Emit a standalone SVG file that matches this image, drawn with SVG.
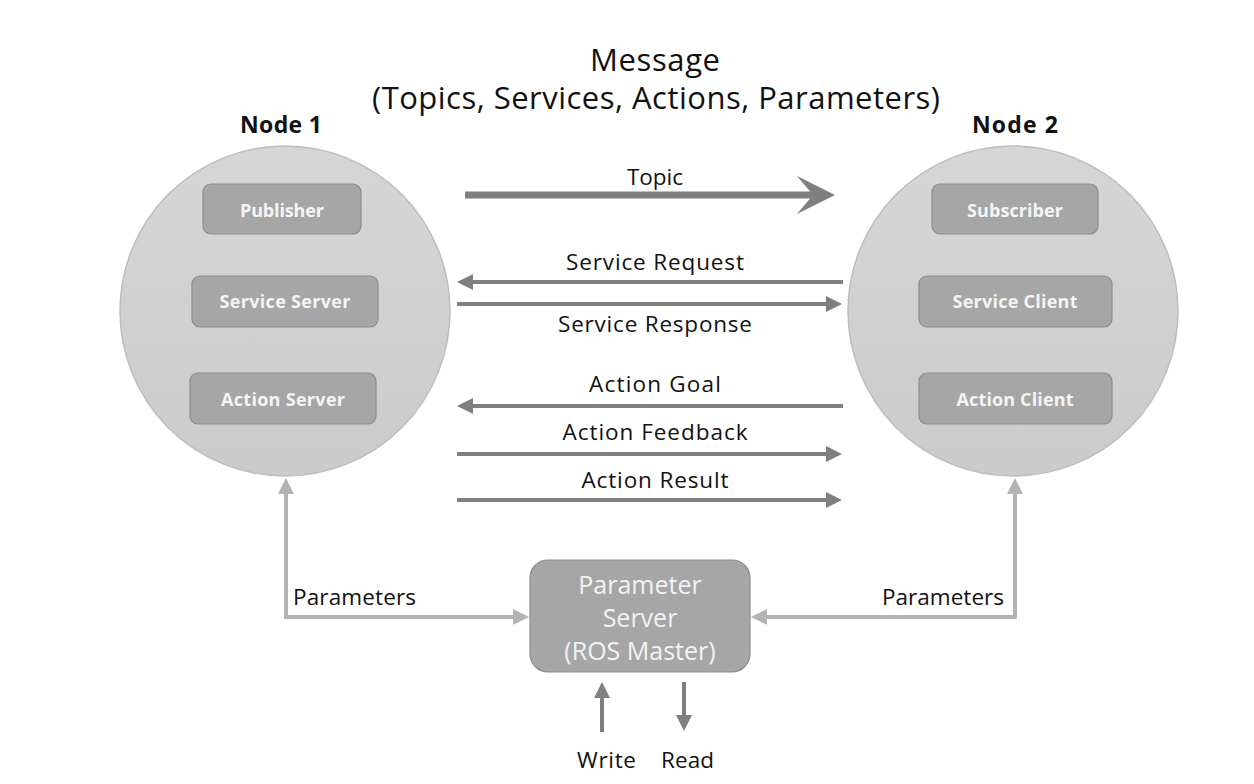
<svg xmlns="http://www.w3.org/2000/svg" width="1254" height="784" viewBox="0 0 1254 784">
<style>
  text { font-family: "Open Sans", "Noto Sans", "Liberation Sans", sans-serif; fill: #111; }
  .title { font-size: 31px; }
  .lbl { font-size: 22.5px; }
  .nodeName { font-size: 23px; font-weight: bold; }
  .boxTxt { font-size: 18px; font-weight: bold; fill: #f4f4f4; }
  .psTxt { font-size: 25px; fill: #f2f2f2; }
  .circle { fill: url(#cg); stroke: #bdbdbd; stroke-width: 1.5; }
  .box { fill: #a6a6a6; stroke: #8c8c8c; stroke-width: 1.2; }
  .dark { stroke: #7f7f7f; stroke-width: 4; fill: none; }
  .light { stroke: #b3b3b3; stroke-width: 4; fill: none; }
</style>
<defs>
  <linearGradient id="cg" x1="0" y1="0" x2="0" y2="1">
    <stop offset="0" stop-color="#d6d6d6"/>
    <stop offset="1" stop-color="#cbcbcb"/>
  </linearGradient>
  <marker id="ahd" markerUnits="userSpaceOnUse" viewBox="0 0 16 16" markerWidth="16" markerHeight="16" refX="2" refY="8" orient="auto-start-reverse">
    <path d="M0,0 L16,8 L0,16 z" fill="#7f7f7f"/>
  </marker>
  <marker id="ahl" markerUnits="userSpaceOnUse" viewBox="0 0 16 16" markerWidth="16" markerHeight="16" refX="2" refY="8" orient="auto-start-reverse">
    <path d="M0,0 L16,8 L0,16 z" fill="#b3b3b3"/>
  </marker>
</defs>
<rect width="1254" height="784" fill="#ffffff"/>

<g id="title">
  <text class="title" x="655" y="71" text-anchor="middle" textLength="130">Message</text>
  <text class="title" x="656" y="109" text-anchor="middle" textLength="568">(Topics, Services, Actions, Parameters)</text>
</g>

<g id="node1">
  <text class="nodeName" x="281" y="133" text-anchor="middle" textLength="82">Node 1</text>
  <circle class="circle" cx="285" cy="311" r="165"/>
  <g id="publisher">
    <rect class="box" x="203" y="184" width="158" height="50" rx="8"/>
    <text class="boxTxt" x="282" y="217" text-anchor="middle" textLength="84">Publisher</text>
  </g>
  <g id="serviceServer">
    <rect class="box" x="192" y="276" width="186" height="51" rx="8"/>
    <text class="boxTxt" x="285" y="308" text-anchor="middle" textLength="131">Service Server</text>
  </g>
  <g id="actionServer">
    <rect class="box" x="190" y="373" width="186" height="51" rx="8"/>
    <text class="boxTxt" x="283" y="406" text-anchor="middle" textLength="124">Action Server</text>
  </g>
</g>

<g id="node2">
  <text class="nodeName" x="1015" y="133" text-anchor="middle" textLength="86">Node 2</text>
  <circle class="circle" cx="1013" cy="311" r="165"/>
  <g id="subscriber">
    <rect class="box" x="932" y="184" width="166" height="50" rx="8"/>
    <text class="boxTxt" x="1015" y="217" text-anchor="middle" textLength="96">Subscriber</text>
  </g>
  <g id="serviceClient">
    <rect class="box" x="919" y="276" width="193" height="51" rx="8"/>
    <text class="boxTxt" x="1015" y="308" text-anchor="middle" textLength="125">Service Client</text>
  </g>
  <g id="actionClient">
    <rect class="box" x="919" y="373" width="193" height="51" rx="8"/>
    <text class="boxTxt" x="1015" y="406" text-anchor="middle" textLength="117">Action Client</text>
  </g>
</g>

<g id="parameterServer">
  <rect class="box" x="530" y="560" width="220" height="112" rx="18"/>
  <text class="psTxt" x="640" y="594" text-anchor="middle">Parameter</text>
  <text class="psTxt" x="640" y="627" text-anchor="middle">Server</text>
  <text class="psTxt" x="640" y="660" text-anchor="middle">(ROS Master)</text>
</g>

<g id="connectors">
  <line x1="465" y1="195" x2="815" y2="195" stroke="#7f7f7f" stroke-width="7"/>
  <polygon points="797,176 835,195 797,214 813,195" fill="#7f7f7f"/>
  <line class="dark" x1="843" y1="282" x2="471" y2="282" marker-end="url(#ahd)"/>
  <line class="dark" x1="457" y1="304" x2="828" y2="304" marker-end="url(#ahd)"/>
  <line class="dark" x1="843" y1="406" x2="471" y2="406" marker-end="url(#ahd)"/>
  <line class="dark" x1="457" y1="454" x2="828" y2="454" marker-end="url(#ahd)"/>
  <line class="dark" x1="457" y1="500" x2="828" y2="500" marker-end="url(#ahd)"/>
  <path class="light" d="M286,492 L286,617 L515,617" marker-start="url(#ahl)" marker-end="url(#ahl)"/>
  <path class="light" d="M1015,492 L1015,617 L765,617" marker-start="url(#ahl)" marker-end="url(#ahl)"/>
  <line class="dark" x1="602" y1="732" x2="602" y2="696" marker-end="url(#ahd)"/>
  <line class="dark" x1="684" y1="682" x2="684" y2="717" marker-end="url(#ahd)"/>
</g>

<g id="labels">
  <text class="lbl" x="655" y="185" text-anchor="middle" textLength="56">Topic</text>
  <text class="lbl" x="655" y="270" text-anchor="middle" textLength="178">Service Request</text>
  <text class="lbl" x="655" y="332" text-anchor="middle" textLength="194">Service Response</text>
  <text class="lbl" x="655" y="392" text-anchor="middle" textLength="132">Action Goal</text>
  <text class="lbl" x="655" y="440" text-anchor="middle" textLength="185">Action Feedback</text>
  <text class="lbl" x="655" y="488" text-anchor="middle" textLength="147">Action Result</text>
  <text class="lbl" x="293" y="605" textLength="123">Parameters</text>
  <text class="lbl" x="882" y="605" textLength="122">Parameters</text>
  <text class="lbl" x="577" y="768" textLength="59">Write</text>
  <text class="lbl" x="661" y="768" textLength="53">Read</text>
</g>
</svg>
